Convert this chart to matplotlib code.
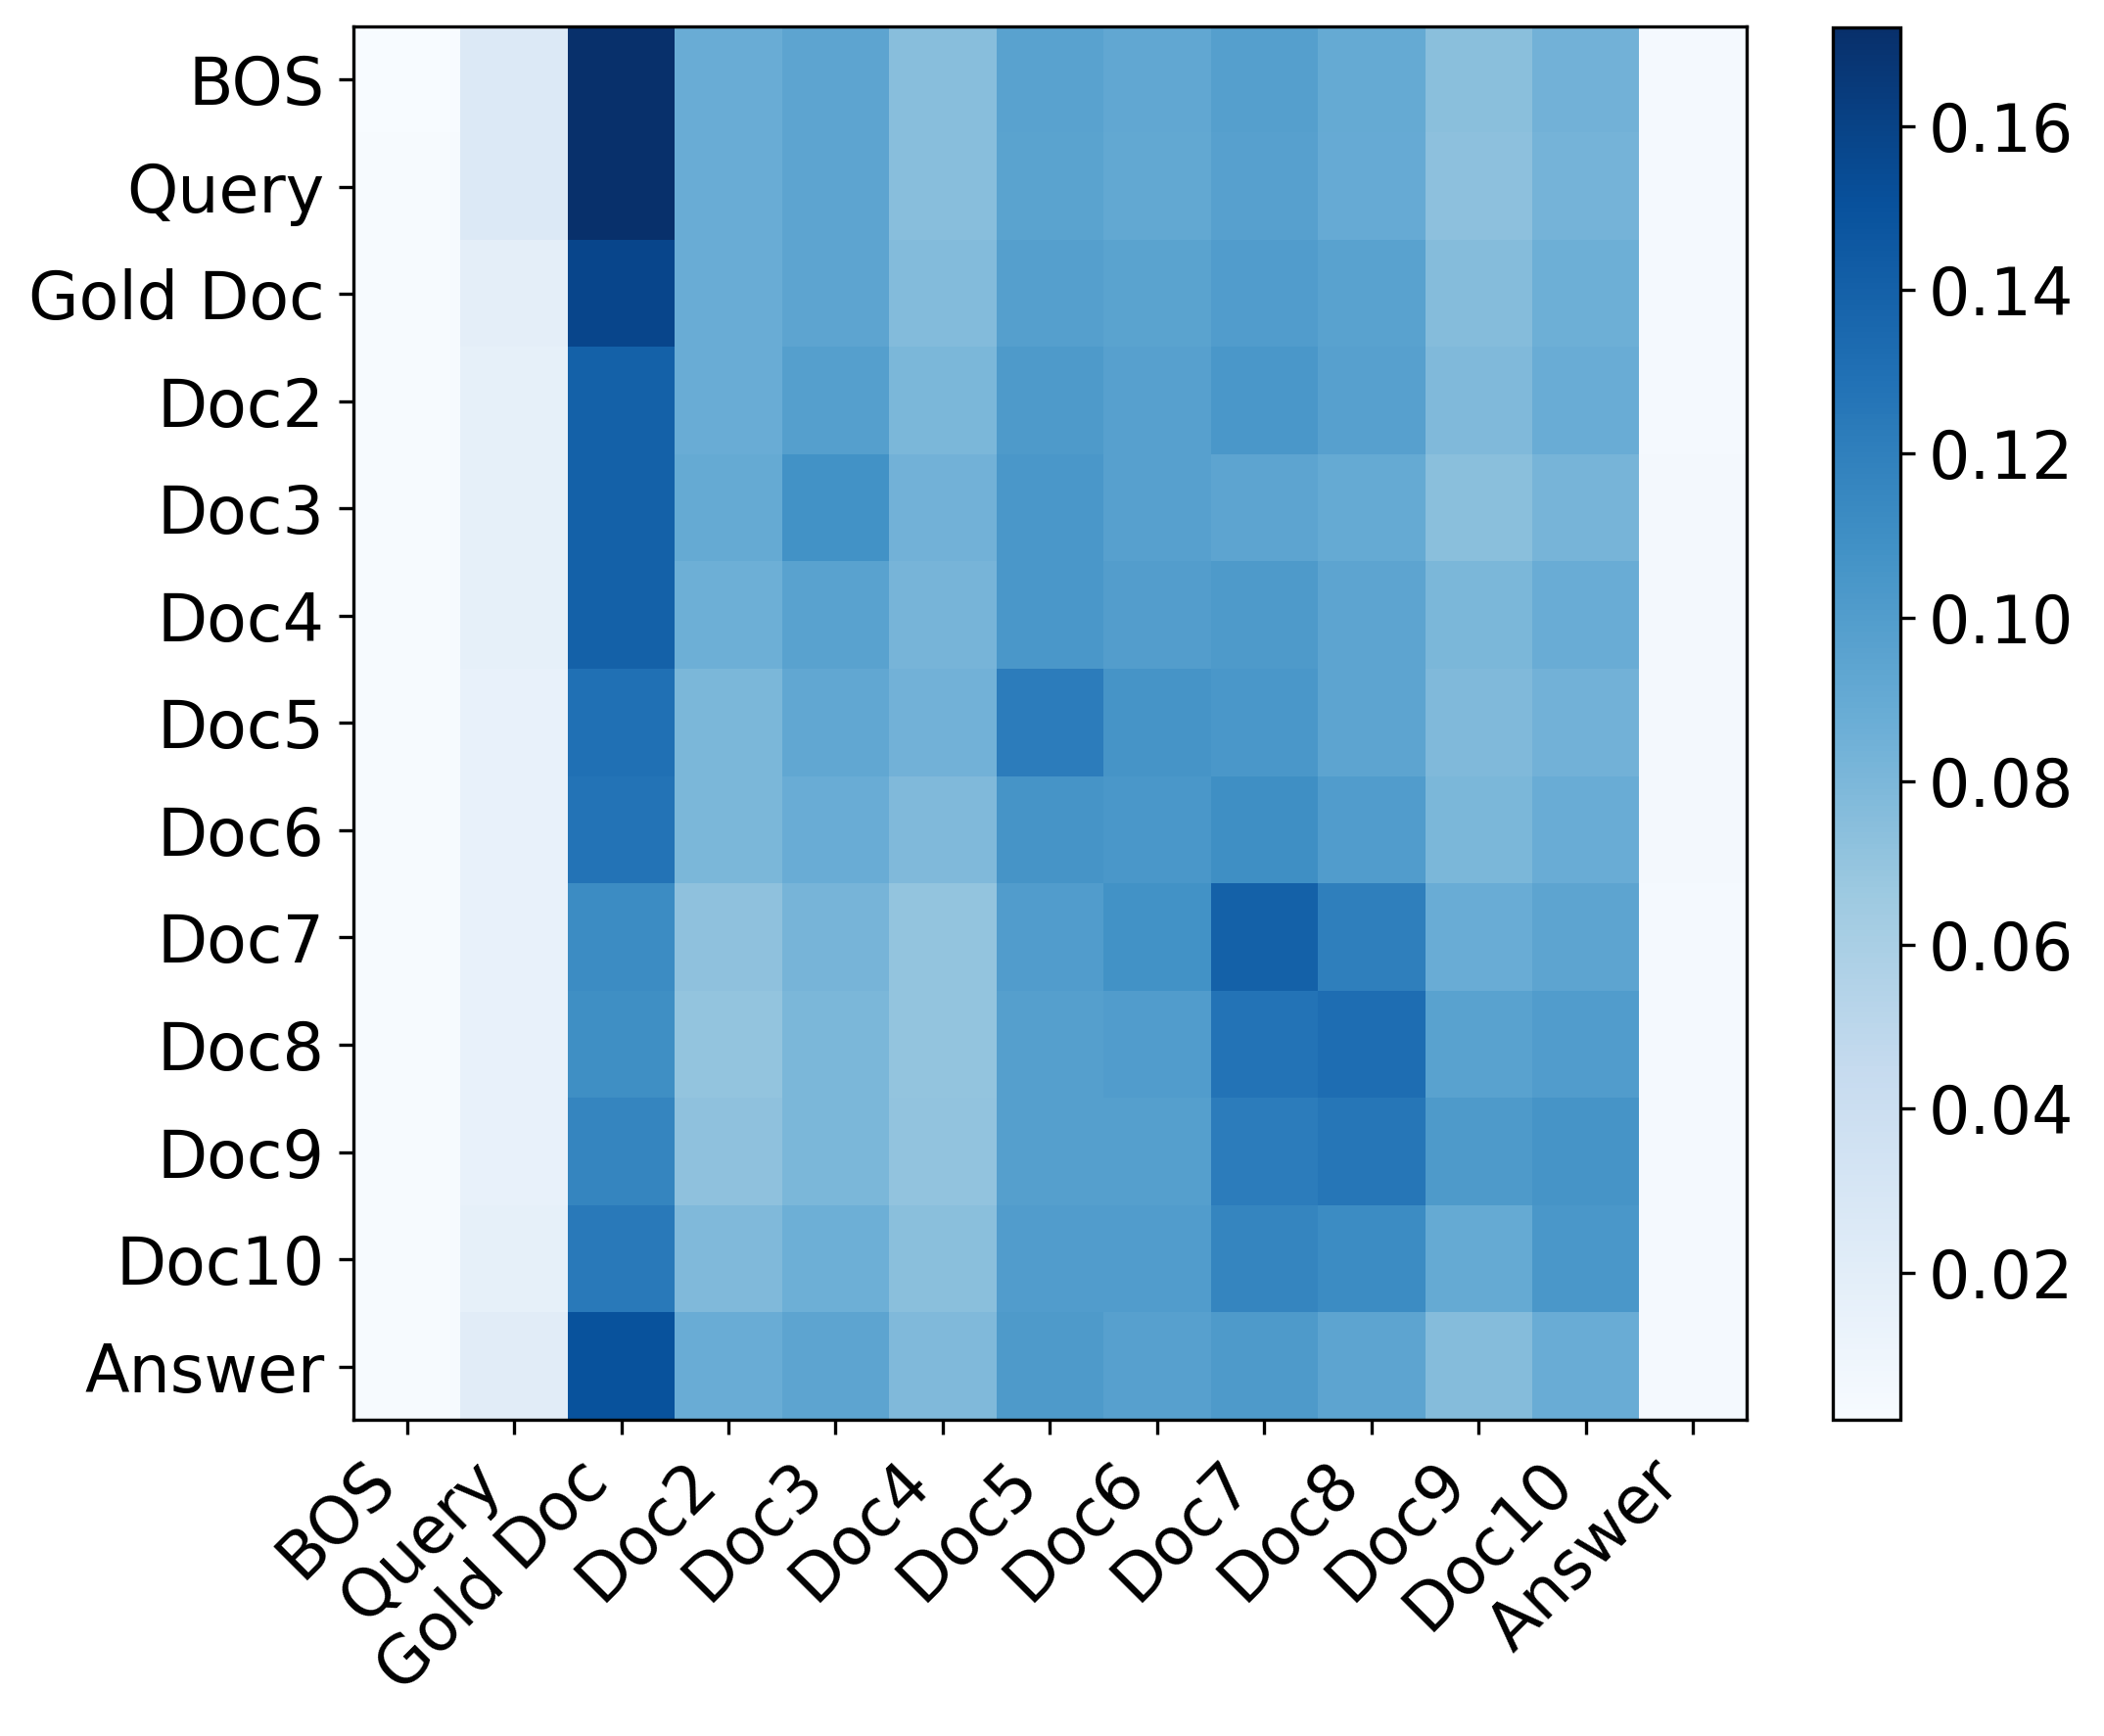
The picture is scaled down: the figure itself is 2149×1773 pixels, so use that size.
import numpy as np
import matplotlib
matplotlib.use("Agg")
import matplotlib.pyplot as plt

labels = ["BOS", "Query", "Gold Doc", "Doc2", "Doc3", "Doc4", "Doc5",
          "Doc6", "Doc7", "Doc8", "Doc9", "Doc10", "Answer"]

# attention values, one list per query row
row_bos = [0.002, 0.025, 0.172, 0.088, 0.094, 0.075, 0.096, 0.092, 0.098, 0.090, 0.074, 0.084, 0.004]
row_query = [0.003, 0.025, 0.172, 0.088, 0.094, 0.075, 0.095, 0.091, 0.097, 0.089, 0.073, 0.083, 0.004]
row_gold = [0.003, 0.018, 0.158, 0.088, 0.094, 0.077, 0.098, 0.095, 0.100, 0.096, 0.076, 0.086, 0.004]
row_doc2 = [0.003, 0.016, 0.140, 0.088, 0.098, 0.080, 0.102, 0.097, 0.104, 0.097, 0.078, 0.088, 0.004]
row_doc3 = [0.003, 0.016, 0.140, 0.090, 0.108, 0.084, 0.104, 0.097, 0.094, 0.090, 0.074, 0.082, 0.005]
row_doc4 = [0.003, 0.016, 0.140, 0.086, 0.096, 0.082, 0.104, 0.099, 0.102, 0.094, 0.080, 0.088, 0.005]
row_doc5 = [0.003, 0.015, 0.130, 0.080, 0.092, 0.084, 0.122, 0.106, 0.104, 0.094, 0.078, 0.084, 0.005]
row_doc6 = [0.003, 0.015, 0.128, 0.080, 0.088, 0.078, 0.106, 0.104, 0.110, 0.100, 0.080, 0.088, 0.005]
row_doc7 = [0.003, 0.014, 0.112, 0.072, 0.082, 0.070, 0.100, 0.108, 0.140, 0.120, 0.088, 0.094, 0.004]
row_doc8 = [0.003, 0.014, 0.110, 0.070, 0.080, 0.070, 0.098, 0.100, 0.128, 0.132, 0.096, 0.100, 0.004]
row_doc9 = [0.003, 0.014, 0.116, 0.072, 0.080, 0.071, 0.098, 0.098, 0.122, 0.126, 0.102, 0.106, 0.004]
row_doc10 = [0.003, 0.016, 0.124, 0.078, 0.086, 0.074, 0.100, 0.100, 0.116, 0.112, 0.090, 0.104, 0.004]
row_answer = [0.003, 0.021, 0.150, 0.088, 0.094, 0.078, 0.102, 0.097, 0.102, 0.094, 0.076, 0.088, 0.004]

data = np.array([row_bos, row_query, row_gold, row_doc2, row_doc3, row_doc4, row_doc5,
                 row_doc6, row_doc7, row_doc8, row_doc9, row_doc10, row_answer])

fig = plt.figure(figsize=(2149 / 300, 1773 / 300), dpi=300)
ax = fig.add_axes([0.168, 0.182, 0.662, 0.803])
cax = fig.add_axes([0.871, 0.182, 0.032, 0.802])

im = ax.imshow(data, cmap="Blues", aspect="auto", interpolation="nearest")
ax.set_xticks(range(len(labels)))
ax.set_yticks(range(len(labels)))
ax.set_xticklabels(labels, rotation=45, ha="right", fontsize=16)
ax.set_yticklabels(labels, fontsize=16)

cb = fig.colorbar(im, cax=cax)
cb.set_ticks([0.02, 0.04, 0.06, 0.08, 0.10, 0.12, 0.14, 0.16])
cb.ax.tick_params(labelsize=16)

fig.savefig("out.png", dpi=300)
